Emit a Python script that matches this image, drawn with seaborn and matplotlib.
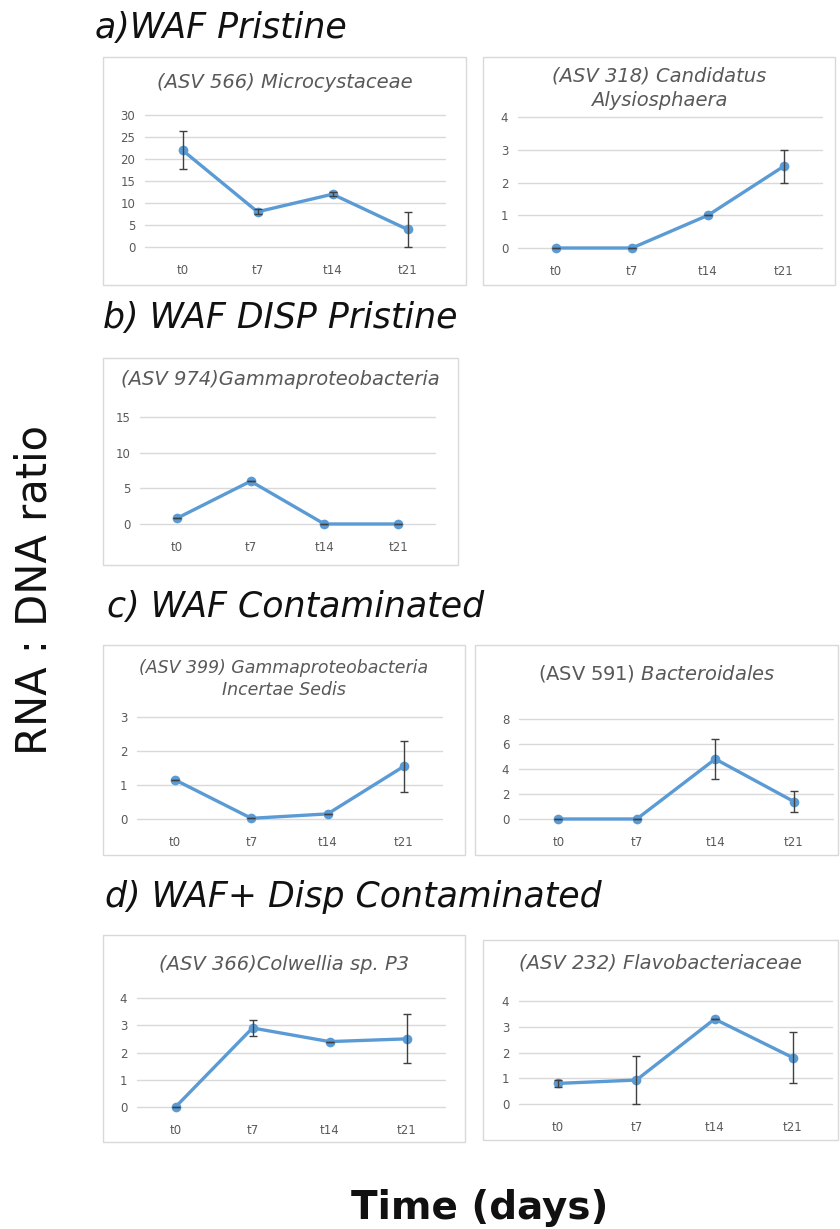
import pandas as pd
import matplotlib.pyplot as plt
import seaborn as sns
from matplotlib.patches import Rectangle

# Sampling days
times = ['t0', 't7', 't14', 't21']

# RNA:DNA ratio per ASV (means and error bars)
asv566 = [22, 8, 12, 4]
asv566_err = [4.3, 0.6, 0.4, 4.0]
asv318 = [0, 0, 1, 2.5]
asv318_err = [0, 0, 0, 0.5]
asv974 = [0.8, 6, 0, 0]
asv974_err = [0, 0, 0, 0]
asv399 = [1.15, 0.02, 0.15, 1.55]
asv399_err = [0, 0, 0, 0.75]
asv591 = [0, 0, 4.8, 1.4]
asv591_err = [0, 0, 1.6, 0.85]
asv366 = [0, 2.9, 2.4, 2.5]
asv366_err = [0, 0.3, 0, 0.9]
asv232 = [0.8, 0.93, 3.3, 1.8]
asv232_err = [0.15, 0.93, 0, 1.0]

sections = ['a)WAF Pristine', 'b) WAF DISP Pristine', 'c) WAF Contaminated', 'd) WAF+ Disp Contaminated']

W, H = 840, 1229
sns.set_style('white')
plt.rcParams['font.family'] = ['DejaVu Sans']
fig = plt.figure(figsize=(W / 100, H / 100), dpi=100)

blue = '#5B9BD5'
grey = '#595959'


def fx(x):
    return x / W


def fy(y):
    return 1 - y / H


def panel(box, plot, title, vals, errs, yticks, title_y, title_size=14, mixed=False):
    # box: outer frame (x0, y0, x1, y1) px ; plot: data area in px
    bx0, by0, bx1, by1 = box
    fig.patches.append(Rectangle((fx(bx0), fy(by1)), fx(bx1 - bx0), (by1 - by0) / H,
                                 transform=fig.transFigure, fill=False,
                                 edgecolor='#D9D9D9', linewidth=1))
    px0, py0, px1, py1 = plot
    ax = fig.add_axes([fx(px0), fy(py1), fx(px1 - px0), (py1 - py0) / H])
    df = pd.DataFrame({'time': times, 'ratio': vals})
    sns.lineplot(data=df, x='time', y='ratio', ax=ax, color=blue, linewidth=2.4,
                 marker='o', markersize=7, markeredgewidth=0, sort=False, clip_on=False)
    ax.errorbar(times, vals, yerr=errs, fmt='none', ecolor='#404040',
                elinewidth=1, capsize=3, capthick=1, clip_on=False)
    ax.set_xlim(-0.5, 3.5)
    ax.set_ylim(yticks[0], yticks[-1])
    ax.set_yticks(yticks)
    ax.yaxis.grid(True, color='#D9D9D9', linewidth=1)
    for gl in ax.get_ygridlines():
        gl.set_clip_on(False)
    ax.set_axisbelow(True)
    ax.tick_params(length=0, labelsize=8.5, labelcolor=grey, pad=7)
    ax.tick_params(axis='x', pad=12)
    for s in ax.spines.values():
        s.set_visible(False)
    ax.set_xlabel('')
    ax.set_ylabel('')
    ax.patch.set_alpha(0)
    cx = fx((bx0 + bx1) / 2)
    if mixed:
        fig.text(cx, fy(title_y), title, ha='center', va='center',
                 fontsize=title_size, color=grey)
    else:
        fig.text(cx, fy(title_y), title, ha='center', va='center',
                 fontsize=title_size, style='italic', color=grey, linespacing=1.35)
    return ax


panel((103, 57, 466, 285), (145, 115, 445, 247), '(ASV 566) Microcystaceae',
      asv566, asv566_err, [0, 5, 10, 15, 20, 25, 30], 83)
panel((483, 57, 835, 285), (518, 117, 822, 248), '(ASV 318) Candidatus\nAlysiosphaera',
      asv318, asv318_err, [0, 1, 2, 3, 4], 88)
panel((103, 358, 458, 565), (140, 417, 435, 524), '(ASV 974)Gammaproteobacteria',
      asv974, asv974_err, [0, 5, 10, 15], 380)
panel((103, 645, 465, 855), (137, 717, 442, 819), '(ASV 399) Gammaproteobacteria\nIncertae Sedis',
      asv399, asv399_err, [0, 1, 2, 3], 679, title_size=12.5)
panel((475, 645, 838, 855), (519, 719, 833, 819), r'(ASV 591) $\it{Bacteroidales}$',
      asv591, asv591_err, [0, 2, 4, 6, 8], 673, mixed=True)
panel((103, 935, 465, 1142), (137, 998, 445, 1107), '(ASV 366)Colwellia sp. P3',
      asv366, asv366_err, [0, 1, 2, 3, 4], 965)
panel((483, 940, 838, 1140), (519, 1001, 832, 1104), '(ASV 232) Flavobacteriaceae',
      asv232, asv232_err, [0, 1, 2, 3, 4], 963)

# section headings
for label, (x, y) in zip(sections, [(95, 28), (103, 318), (107, 607), (105, 897)]):
    fig.text(fx(x), fy(y), label, ha='left', va='center', fontsize=25, style='italic',
             color='#111111')

fig.text(fx(35), fy(590), 'RNA : DNA ratio', rotation=90, ha='center', va='center',
         fontsize=30, color='#111111')
fig.text(fx(480), fy(1208), 'Time (days)', ha='center', va='center', fontsize=28,
         fontweight='bold', color='#111111')

fig.savefig('out.png', dpi=100)
